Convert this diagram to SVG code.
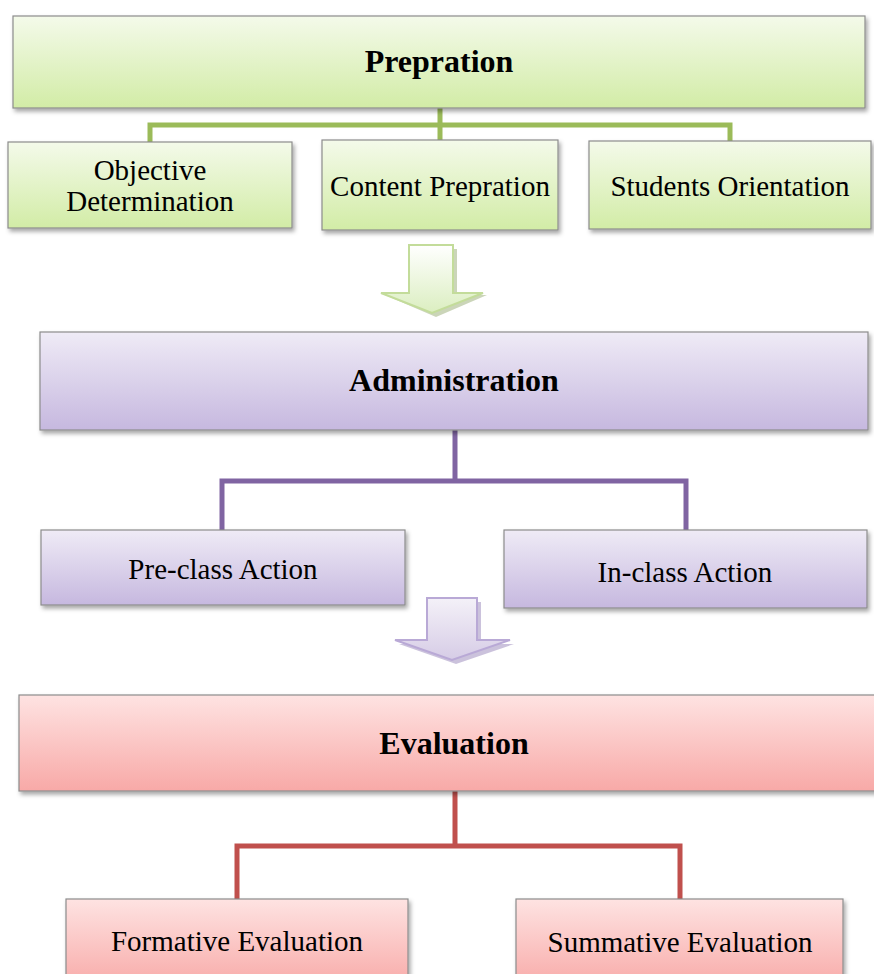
<svg xmlns="http://www.w3.org/2000/svg" width="874" height="974" viewBox="0 0 874 974">
<defs>
<linearGradient id="gG" x1="0" y1="0" x2="0" y2="1"><stop offset="0" stop-color="#f4faea"/><stop offset="1" stop-color="#d2eca6"/></linearGradient>
<linearGradient id="gP" x1="0" y1="0" x2="0" y2="1"><stop offset="0" stop-color="#efebf6"/><stop offset="1" stop-color="#c6b8df"/></linearGradient>
<linearGradient id="gR" x1="0" y1="0" x2="0" y2="1"><stop offset="0" stop-color="#fee3e2"/><stop offset="1" stop-color="#f8a9a7"/></linearGradient>
<linearGradient id="aG" x1="0" y1="0" x2="0" y2="1"><stop offset="0" stop-color="#ffffff"/><stop offset="1" stop-color="#dbeec0"/></linearGradient>
<linearGradient id="aP" x1="0" y1="0" x2="0" y2="1"><stop offset="0" stop-color="#f4f1f8"/><stop offset="1" stop-color="#d6cce6"/></linearGradient>
<filter id="sh" x="-5%" y="-10%" width="110%" height="125%"><feDropShadow dx="2" dy="3" stdDeviation="2" flood-color="#000" flood-opacity="0.35"/></filter>
</defs>
<style>
.box{stroke:#8c8c8c;stroke-width:1.2;filter:url(#sh)}
.g{fill:url(#gG)} .p{fill:url(#gP)} .r{fill:url(#gR)}
text{font-family:"Liberation Serif","Times New Roman",serif;fill:#000;text-anchor:middle}
.t{font-size:32px;font-weight:bold}
.s{font-size:29px}
.c{fill:none;stroke-width:5}
</style>
<g id="connectors">
<path class="c" stroke="#9bbb59" d="M440,108 V125 M150,142 V125 H730 V141 M440,125 V140"/>
<path class="c" stroke="#8064a2" d="M455,430 V481 M222,530 V481 H686 V530"/>
<path class="c" stroke="#c0504d" d="M455,791 V846 M237,899 V846 H680 V899"/>
</g>
<g id="arrow1">
<path d="M413,249 H457 V295 H487 L436,317 L385,295 H413 Z" fill="#a9b98a" opacity="0.6"/>
<path d="M409,245 H453 V293 H483 L432,313 L381,293 H409 Z" fill="url(#aG)" stroke="#c3dc9a" stroke-width="2"/>
</g>
<g id="arrow2">
<path d="M431,602 H481 V644 H514 L456,664 L399,644 H431 Z" fill="#a999c4" opacity="0.6"/>
<path d="M427,598 H477 V640 H510 L452,660 L395,640 H427 Z" fill="url(#aP)" stroke="#b9a9d6" stroke-width="2"/>
</g>
<g id="prepration"><rect class="box g" x="13" y="16" width="852" height="92"/><text class="t" x="439" y="72">Prepration</text></g>
<g id="objective"><rect class="box g" x="8" y="142" width="284" height="86"/><text class="s" x="150" y="180">Objective</text><text class="s" x="150" y="211">Determination</text></g>
<g id="content"><rect class="box g" x="322" y="140" width="236" height="90"/><text class="s" x="440" y="196">Content Prepration</text></g>
<g id="students"><rect class="box g" x="589" y="141" width="282" height="88"/><text class="s" x="730" y="196">Students Orientation</text></g>
<g id="administration"><rect class="box p" x="40" y="332" width="828" height="98"/><text class="t" x="454" y="391">Administration</text></g>
<g id="preclass"><rect class="box p" x="41" y="530" width="364" height="75"/><text class="s" x="223" y="579">Pre-class Action</text></g>
<g id="inclass"><rect class="box p" x="504" y="530" width="363" height="78"/><text class="s" x="685" y="582">In-class Action</text></g>
<g id="evaluation"><rect class="box r" x="19" y="695" width="860" height="96"/><text class="t" x="454" y="754">Evaluation</text></g>
<g id="formative"><rect class="box r" x="66" y="899" width="342" height="90"/><text class="s" x="237" y="951">Formative Evaluation</text></g>
<g id="summative"><rect class="box r" x="516" y="899" width="327" height="90"/><text class="s" x="680" y="952">Summative Evaluation</text></g>
</svg>
